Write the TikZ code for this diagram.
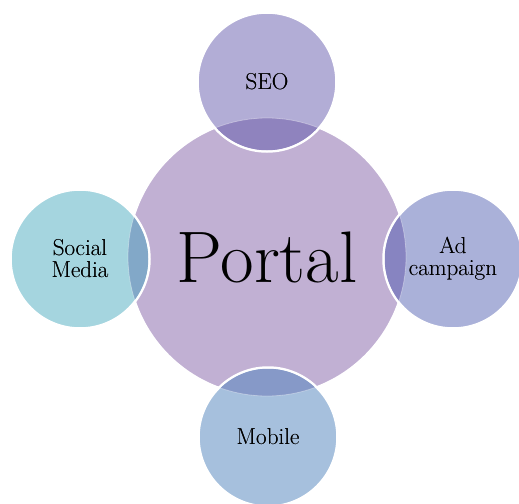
\documentclass[tikz,border=0pt]{standalone}
\usepackage{tikz}
\usetikzlibrary{positioning}

\definecolor{hubfill}{HTML}{C1B0D3}
\definecolor{seofill}{HTML}{B2ADD6}
\definecolor{seodark}{HTML}{8F83BE}
\definecolor{socialfill}{HTML}{A5D5DF}
\definecolor{socialdark}{HTML}{82A8C8}
\definecolor{adfill}{HTML}{AAB1D9}
\definecolor{addark}{HTML}{8784C1}
\definecolor{mobilefill}{HTML}{A6C0DD}
\definecolor{mobiledark}{HTML}{8699C8}

\begin{document}
\begin{tikzpicture}[x=1pt, y=-1pt,
    hub/.style={circle, fill=hubfill, draw=white, line width=1.5pt, minimum size=278pt, inner sep=0pt, font=\fontsize{73}{73}\selectfont},
    spoke/.style={circle, draw=white, line width=2.5pt, minimum size=139pt, inner sep=0pt, align=center, font=\fontsize{23}{22}\selectfont}]
        % Fix the canvas size
        \useasboundingbox (0,0) rectangle (519,503);
        % Define the radius of the central and outer circles
        \def\R{139}
        \def\r{69.5}

        % Draw the central circle
        \node[hub] (portal) at (267,257) {Portal};

        % Draw the outer circles
        \node[spoke, fill=seofill] (seo) at (267,82) {SEO};
        \node[spoke, fill=socialfill] (social) at (80,259) {Social\\Media};
        \node[spoke, fill=adfill] (ad) at (453,259) {Ad\\campaign};
        \node[spoke, fill=mobilefill] (mobile) at (268,437) {Mobile};

        % Shade where each outer circle covers the central one
        \foreach \s/\c in {seo/seodark, social/socialdark, ad/addark, mobile/mobiledark}
        {
          \begin{scope}
            \clip (\s.center) circle[radius=\r-1.25];
            \fill[\c] (portal.center) circle[radius=\R];
            \draw[white, opacity=0.35, line width=0.8pt] (portal.center) circle[radius=\R];
          \end{scope}
        }

        % Put the labels back on top of the shading
        \node[spoke, draw=none, fill=none] at (seo) {SEO};
        \node[spoke, draw=none, fill=none] at (social) {Social\\Media};
        \node[spoke, draw=none, fill=none] at (ad) {Ad\\campaign};
        \node[spoke, draw=none, fill=none] at (mobile) {Mobile};
      \end{tikzpicture}
\end{document}
